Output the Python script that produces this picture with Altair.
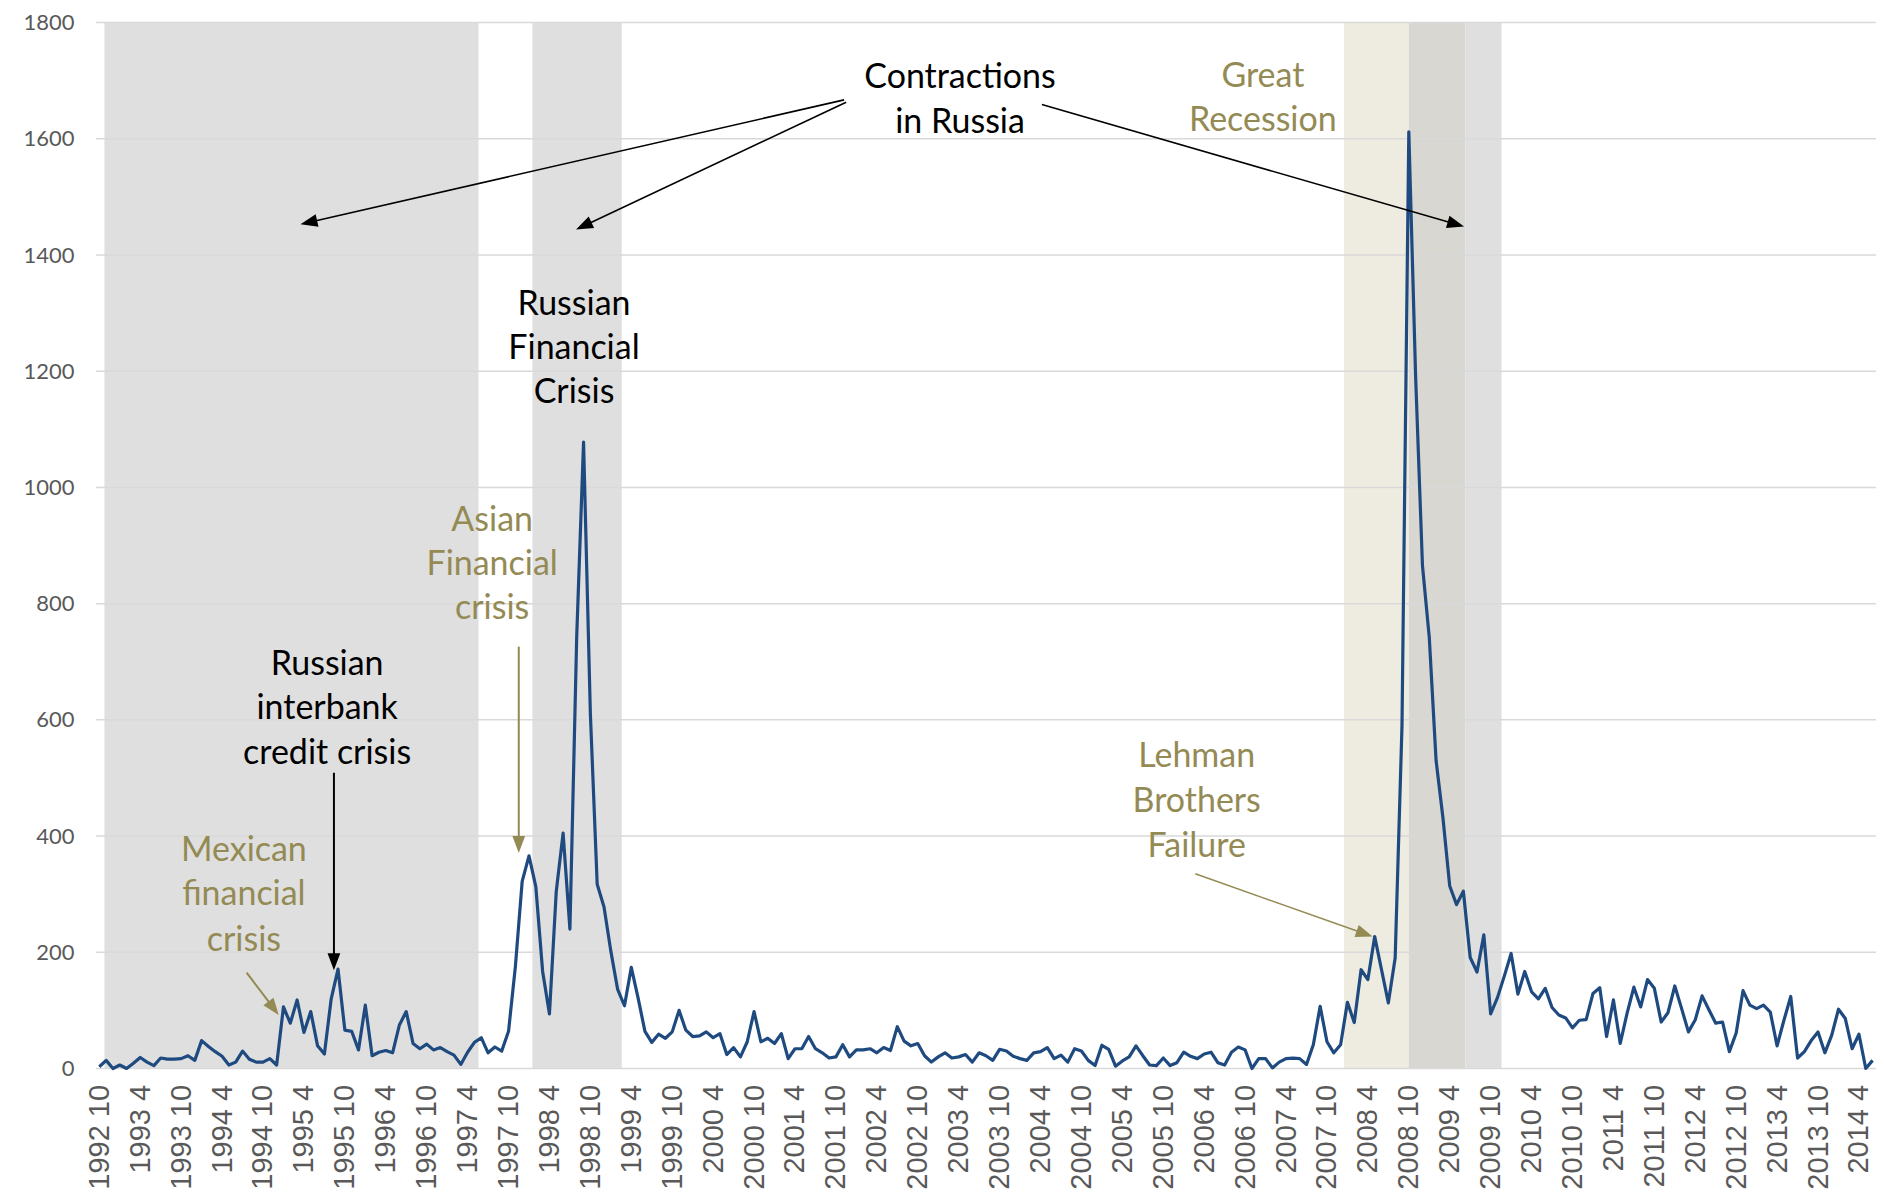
import math
import altair as alt
import pandas as pd

# ---------------- data ----------------
START_YEAR = 1992
START_MONTH = 10  # first observation: 1992 10, monthly through 2014 6

values = [
    3, 14, 0, 6, 0, 9, 19, 11, 5, 18, 16, 16, 17, 22, 14, 48, 38, 29, 21, 6,
    11, 30, 16, 11, 11, 17, 6, 106, 78, 118, 62, 98, 39, 25, 120, 171, 66, 64, 32, 109,
    22, 28, 31, 27, 75, 98, 43, 34, 42, 32, 36, 29, 23, 7, 28, 45, 53, 27, 37, 30,
    64, 175, 322, 366, 313, 167, 94, 305, 405, 240, 745, 1078, 610, 317, 278, 202, 136, 108, 174, 121,
    64, 45, 59, 52, 63, 100, 66, 55, 56, 63, 53, 60, 24, 36, 20, 46, 98, 46, 52, 43,
    60, 17, 34, 34, 55, 34, 27, 18, 20, 41, 20, 32, 32, 34, 27, 36, 31, 72, 47, 39,
    43, 22, 11, 20, 27, 18, 20, 24, 11, 27, 22, 14, 33, 30, 21, 17, 14, 27, 29, 36,
    17, 23, 11, 34, 30, 14, 5, 40, 33, 4, 13, 20, 39, 22, 6, 5, 18, 5, 10, 28,
    21, 17, 25, 28, 10, 6, 28, 37, 32, 0, 17, 17, 1, 11, 17, 18, 17, 7, 41, 107,
    46, 27, 41, 114, 79, 170, 153, 227, 170, 113, 190, 590, 1612, 1190, 866, 742, 530, 432, 314, 282,
    305, 191, 166, 230, 94, 122, 159, 198, 128, 167, 132, 120, 138, 105, 92, 87, 70, 83, 84, 129,
    139, 55, 118, 43, 95, 140, 106, 153, 138, 80, 96, 142, 103, 63, 84, 125, 101, 78, 80, 29,
    61, 134, 109, 103, 109, 97, 39, 83, 124, 18, 29, 48, 63, 27, 57, 102, 86, 34, 59, 0,
    14,
]

Y_TICKS = list(range(0, 1801, 200))
X_TICKS = list(range(0, 259, 6))

# shaded periods (in month-index units)
band_start = [0.75, 63.5, 182.5, 192.0, 200.3]
band_end = [55.6, 76.6, 192.0, 200.3, 205.6]
band_fill = ["#DFDFDF", "#DFDFDF", "#EEECE1", "#D8D7D2", "#DFDFDF"]

BLACK = "#000000"
OLIVE = "#948A54"

note_text = ["Contractions", "in Russia",
             "Russian", "Financial", "Crisis",
             "Russian", "interbank", "credit crisis",
             "Mexican", "financial", "crisis",
             "Asian", "Financial", "crisis",
             "Great", "Recession",
             "Lehman", "Brothers", "Failure"]
note_i = [126.2, 126.2,
          69.6, 69.6, 69.6,
          33.4, 33.4, 33.4,
          21.2, 21.2, 21.2,
          57.6, 57.6, 57.6,
          170.6, 170.6,
          160.9, 160.9, 160.9]
note_v = [1705, 1628,
          1314, 1238, 1162,
          695, 619, 542,
          375, 299, 220,
          943, 866, 790,
          1707, 1630,
          536, 458, 381]
note_color = [BLACK] * 8 + [OLIVE] * 3 + [OLIVE] * 3 + [OLIVE] * 2 + [OLIVE] * 3

arrow_i0 = [109.2, 109.5, 138.2, 34.4, 21.6, 61.5, 160.7]
arrow_v0 = [1667, 1663, 1659, 509, 165, 726, 335]
arrow_i1 = [29.5, 69.9, 200.1, 34.4, 26.3, 61.5, 186.7]
arrow_v1 = [1453, 1444, 1449, 169, 92, 371, 227]
arrow_color = [BLACK, BLACK, BLACK, BLACK, OLIVE, OLIVE, OLIVE]
arrow_width = [1.6, 1.6, 1.6, 2.0, 2.0, 2.0, 1.6]

# ---------------- geometry ----------------
W, H = 1782, 1047
X_DOM = [-0.5, 260.5]
Y_DOM = [0, 1800]
px_i = W / (X_DOM[1] - X_DOM[0])
px_v = H / (Y_DOM[1] - Y_DOM[0])
HEAD_LEN = 17
HEAD_PATH = "M0,-1L-0.75,1L0.75,1Z"

series = pd.DataFrame({"i": list(range(len(values))), "v": values})
bands = pd.DataFrame({"s": band_start, "e": band_end, "c": band_fill})
grid = pd.DataFrame({"y": Y_TICKS})
notes = pd.DataFrame({"i": note_i, "v": note_v, "t": note_text, "c": note_color})

shafts, heads = [], []
for k in range(len(arrow_i0)):
    i0, v0, i1, v1 = arrow_i0[k], arrow_v0[k], arrow_i1[k], arrow_v1[k]
    dx = (i1 - i0) * px_i
    dy = -(v1 - v0) * px_v
    L = math.hypot(dx, dy)
    ux, uy = dx / L, dy / L
    ang = math.degrees(math.atan2(ux, -uy)) % 360
    hc_i = i1 - ux * HEAD_LEN / 2 / px_i
    hc_v = v1 + uy * HEAD_LEN / 2 / px_v
    se_i = i1 - ux * HEAD_LEN * 0.8 / px_i
    se_v = v1 + uy * HEAD_LEN * 0.8 / px_v
    shafts.append({"a": i0, "b": v0, "a2": se_i, "b2": se_v,
                   "c": arrow_color[k], "w": arrow_width[k]})
    heads.append({"i": hc_i, "v": hc_v, "ang": ang, "c": arrow_color[k]})
shafts = pd.DataFrame(shafts)
heads = pd.DataFrame(heads)

xs = alt.Scale(domain=X_DOM, nice=False, zero=False)
ys = alt.Scale(domain=Y_DOM, nice=False)

label_expr = ("toString({y} + floor((datum.value + {m}) / 12)) + ' ' + "
              "toString((datum.value + {m}) % 12 + 1)").format(y=START_YEAR, m=START_MONTH - 1)

x_axis = alt.Axis(values=X_TICKS, labelExpr=label_expr, labelAngle=270, labelAlign="right",
                  labelBaseline="middle", labelFont="Liberation Sans", labelFontSize=29,
                  labelColor="#595959", labelPadding=16, grid=False, domain=False, ticks=False,
                  title=None, labelOverlap=False, labelBound=False, labelFlush=False)
y_axis = alt.Axis(values=Y_TICKS, format="d", labelFont="Lato", labelFontSize=22,
                  labelColor="#595959", labelPadding=22, grid=False, domain=False, ticks=False,
                  title=None)

band_layer = alt.Chart(bands).mark_rect().encode(
    x=alt.X("s:Q", scale=xs, axis=x_axis),
    x2="e:Q",
    y=alt.datum(0, scale=ys, type="quantitative"),
    y2=alt.datum(1800),
    color=alt.Color("c:N", scale=None),
)

grid_layer = alt.Chart(grid).mark_rule(color="#D9D9D9", strokeWidth=1.5).encode(
    y=alt.Y("y:Q", scale=ys, axis=y_axis),
)

line_layer = alt.Chart(series).mark_line(color="#1F4A80", strokeWidth=3.2, strokeJoin="round").encode(
    x=alt.X("i:Q", scale=xs),
    y=alt.Y("v:Q", scale=ys),
)

shaft_layer = alt.Chart(shafts).mark_rule().encode(
    x=alt.X("a:Q", scale=xs), x2="a2:Q",
    y=alt.Y("b:Q", scale=ys), y2="b2:Q",
    color=alt.Color("c:N", scale=None),
    strokeWidth=alt.StrokeWidth("w:Q", scale=None),
)

head_layer = alt.Chart(heads).mark_point(shape=HEAD_PATH, filled=True, opacity=1,
                                         size=HEAD_LEN * HEAD_LEN).encode(
    x=alt.X("i:Q", scale=xs),
    y=alt.Y("v:Q", scale=ys),
    angle=alt.Angle("ang:Q", scale=None),
    color=alt.Color("c:N", scale=None),
)

text_layer = alt.Chart(notes).mark_text(font="Lato", fontSize=34, align="center",
                                        baseline="middle").encode(
    x=alt.X("i:Q", scale=xs),
    y=alt.Y("v:Q", scale=ys),
    text="t:N",
    color=alt.Color("c:N", scale=None),
)

chart = alt.layer(band_layer, grid_layer, line_layer, shaft_layer, head_layer, text_layer).properties(
    width=W, height=H,
    autosize=alt.AutoSizeParams(type="none"),
    padding={"left": 88, "top": 14, "right": 0, "bottom": 120},
    background="white",
).configure_view(stroke=None)

chart.save("out.html", embed_options={"renderer": "svg", "actions": False})
